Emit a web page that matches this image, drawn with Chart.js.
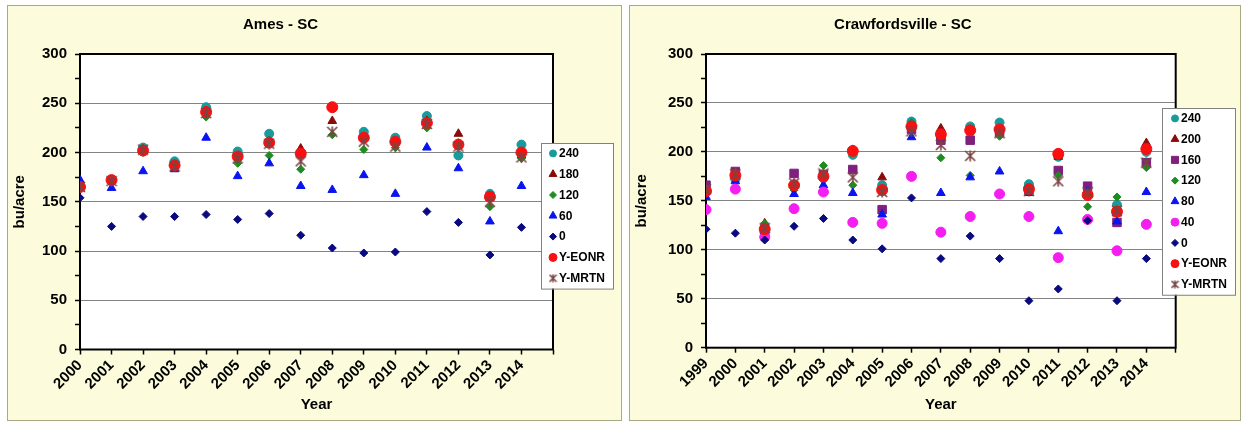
<!DOCTYPE html>
<html>
<head>
<meta charset="utf-8">
<script src="https://cdn.jsdelivr.net/npm/chart.js@4.4.0/dist/chart.umd.min.js"></script>
<style>
  html, body { margin: 0; padding: 0; background: #fff; }
  .panel { position: absolute; top: 5px; height: 414px; border: 1px solid #a9a984; background: #fcfcdc; }
  #amesBox { left: 7px; width: 613px; }
  #crawBox { left: 629px; width: 610px; }
  canvas { display: block; }
</style>
</head>
<body>
<div class="panel" id="amesBox"><canvas id="ames" width="613" height="414"></canvas></div>
<div class="panel" id="crawBox"><canvas id="craw" width="610" height="414"></canvas></div>
<script>
// ---- Ames - SC (N rates, bu/acre) ----
const amesYears = [2000, 2001, 2002, 2003, 2004, 2005, 2006, 2007, 2008, 2009, 2010, 2011, 2012, 2013, 2014];
const ames240  = [166, 172, 205, 191, 246, 201, 219, 200, 246, 221, 215, 237, 197, 158, 208];
const ames180  = [165, 172, 203, 187, 242, 195, 211, 204, 232, 215, 210, 232, 219, 154, 197];
const ames120  = [163, 170, 200, 186, 236, 189, 197, 183, 218, 203, 205, 225, 210, 145, 194];
const ames60   = [172, 164, 181, 183, 215, 176, 189, 166, 162, 177, 158, 205, 184, 130, 166];
const ames0    = [154, 125, 135, 135, 137, 132, 138, 116, 103, 98, 99, 140, 129, 96, 124];
const amesEonr = [165, 172, 202, 187, 241, 196, 210, 199, 246, 215, 211, 230, 208, 155, 200];
const amesMrtn = [165, 171, 203, 186, 240, 194, 209, 191, 221, 211, 206, 229, 206, 150, 195];

// ---- Crawfordsville - SC ----
const crawYears = [1999, 2000, 2001, 2002, 2003, 2004, 2005, 2006, 2007, 2008, 2009, 2010, 2011, 2012, 2013, 2014];
const craw240  = [160, 172, 122, 166, 173, 197, 166, 231, 214, 226, 230, 167, 195, 158, 146, 200];
const craw200  = [164, 178, 127, 167, 176, 202, 174, 228, 224, 222, 221, 162, 195, 158, 137, 209];
const craw160  = [166, 180, 119, 178, 177, 182, 141, 223, 212, 212, 220, 161, 181, 165, 128, 189];
const craw120  = [158, 179, 127, 161, 186, 166, 160, 230, 194, 176, 216, 161, 176, 144, 154, 184];
const craw80   = [154, 170, 117, 157, 166, 158, 136, 215, 158, 174, 180, 158, 119, 160, 129, 159];
const craw40   = [141, 162, 113, 142, 159, 128, 127, 175, 118, 134, 157, 134, 92, 131, 99, 126];
const craw0    = [121, 117, 110, 124, 132, 110, 101, 153, 91, 114, 91, 48, 60, 130, 48, 91];
const crawEonr = [160, 176, 121, 166, 175, 201, 161, 226, 218, 222, 223, 162, 198, 156, 139, 203];
const crawMrtn = [162, 177, 122, 168, 178, 174, 159, 221, 207, 196, 219, 160, 170, 159, 140, 189];

const FONT = 'Liberation Sans, Arial, sans-serif';

// Excel "star" marker: an X with a vertical bar
function excelStar(size, color) {
  const c = document.createElement('canvas');
  c.width = size; c.height = size;
  const g = c.getContext('2d');
  g.strokeStyle = color;
  g.lineWidth = 1.6;
  g.beginPath();
  g.moveTo(1, 1); g.lineTo(size - 1, size - 1);
  g.moveTo(size - 1, 1); g.lineTo(1, size - 1);
  g.moveTo(size / 2, 0.5); g.lineTo(size / 2, size - 0.5);
  g.stroke();
  return c;
}

const MRTN = '#7a4444';
const starBig = excelStar(12, MRTN);
const starSmall = excelStar(9, MRTN);

// marker look per series name
const markers = {
  '240':    { color: '#179b9b', pointStyle: 'circle',   radius: 4.5, lr: 3.5 },
  '200':    { color: '#8b0a0a', pointStyle: 'triangle', radius: 5,   lr: 4.5 },
  '180':    { color: '#8b0a0a', pointStyle: 'triangle', radius: 5,   lr: 4.5 },
  '160':    { color: '#7f1f7f', pointStyle: 'rect',     radius: 6,   lr: 5 },
  '120':    { color: '#1e8c1e', pointStyle: 'rectRot',  radius: 4,   lr: 3.5 },
  '80':     { color: '#0a14f0', pointStyle: 'triangle', radius: 5,   lr: 4.5 },
  '60':     { color: '#0a14f0', pointStyle: 'triangle', radius: 5,   lr: 4.5 },
  '40':     { color: '#f51ef0', pointStyle: 'circle',   radius: 5,   lr: 4 },
  '0':      { color: '#0a0a80', pointStyle: 'rectRot',  radius: 4,   lr: 3.5 },
  'Y-EONR': { color: '#fa1010', pointStyle: 'circle',   radius: 5.5, lr: 4 },
  'Y-MRTN': { color: MRTN, pointStyle: starBig, legendStyle: starSmall, radius: 6, lr: 4.5 }
};

// white plot area + black frame
const plotFrame = {
  id: 'plotFrame',
  beforeDraw(chart) {
    const a = chart.chartArea, ctx = chart.ctx;
    ctx.save();
    ctx.fillStyle = '#ffffff';
    ctx.fillRect(a.left, a.top, a.right - a.left, a.bottom - a.top);
    ctx.restore();
  },
  beforeDatasetsDraw(chart) {
    const a = chart.chartArea, ctx = chart.ctx;
    ctx.save();
    ctx.strokeStyle = '#000';
    ctx.lineWidth = 2;
    ctx.strokeRect(a.left, a.top, a.right - a.left, a.bottom - a.top);
    ctx.restore();
  }
};

// Excel-like legend box that overlaps the plot's right edge
const boxLegend = {
  id: 'boxLegend',
  afterDraw(chart, args, opts) {
    const ctx = chart.ctx;
    const sets = chart.data.datasets;
    const h = sets.length * opts.row;
    ctx.save();
    ctx.fillStyle = '#ffffff';
    ctx.fillRect(opts.x, opts.y, opts.w, h);
    ctx.strokeStyle = '#808080';
    ctx.lineWidth = 1;
    ctx.strokeRect(opts.x + 0.5, opts.y + 0.5, opts.w, h);
    ctx.font = 'bold 12px ' + FONT;
    ctx.textBaseline = 'middle';
    ctx.textAlign = 'left';
    sets.forEach((ds, i) => {
      const cy = opts.y + opts.row * (i + 0.5);
      const m = markers[ds.label];
      ctx.fillStyle = m.color;
      ctx.strokeStyle = m.color;
      ctx.lineWidth = 1;
      Chart.helpers.drawPoint(ctx, { pointStyle: m.legendStyle || m.pointStyle, radius: m.lr, borderWidth: 1, rotation: 0 }, opts.x + opts.mx, cy);
      ctx.fillStyle = '#000';
      ctx.fillText(ds.label, opts.x + opts.tx, cy + 0.5);
    });
    ctx.restore();
  }
};

function makeChart(canvasId, title, years, names, values, geo) {
  const n = names.length;
  const datasets = names.map((name, i) => {
    const m = markers[name];
    return {
      label: name,
      data: years.map((yr, k) => ({ x: yr, y: values[i][k] })),
      pointStyle: m.pointStyle,
      pointRadius: m.radius,
      pointBackgroundColor: m.color,
      pointBorderColor: m.color,
      pointBorderWidth: 1,
      showLine: false,
      order: n - i
    };
  });
  const tickFont = { family: FONT, size: 15, weight: 'bold' };
  return new Chart(document.getElementById(canvasId), {
    type: 'scatter',
    data: { datasets },
    options: {
      responsive: false,
      animation: false,
      events: [],
      layout: { padding: { left: 0, right: geo.right, top: 0, bottom: 0 } },
      plugins: {
        legend: { display: false },
        tooltip: { enabled: false },
        title: {
          display: true, text: title, color: '#000',
          font: { family: FONT, size: 15, weight: 'bold' },
          padding: { top: 10, bottom: 20 }
        },
        boxLegend: geo.legend
      },
      scales: {
        x: {
          type: 'linear',
          min: years[0],
          max: years[years.length - 1] + 1,
          ticks: {
            stepSize: 1, autoSkip: false, maxRotation: 45, minRotation: 45,
            color: '#000', font: tickFont, padding: 2,
            callback: v => years.includes(v) ? String(v) : ''
          },
          grid: { drawOnChartArea: false, drawTicks: true, tickLength: 5, tickColor: '#000', tickWidth: 1.5 },
          border: { display: false },
          title: { display: true, text: 'Year', color: '#000', font: tickFont, padding: { top: 0, bottom: 6 } },
          afterFit: s => { s.height = geo.xh; }
        },
        y: {
          min: 0, max: 300,
          ticks: {
            stepSize: 25, autoSkip: false, color: '#000', font: tickFont, padding: 8,
            callback: v => v % 50 === 0 ? String(v) : ''
          },
          grid: {
            color: c => (c.tick && c.tick.value % 50 === 0 && c.tick.value > 0 && c.tick.value < 300) ? '#848484' : 'rgba(0,0,0,0)',
            lineWidth: 1, tickColor: '#000', tickLength: 5, tickWidth: 1.5
          },
          border: { display: false },
          title: { display: true, text: 'bu/acre', color: '#000', font: tickFont, padding: { top: 3, bottom: 0 } },
          afterFit: s => { s.width = geo.yw; }
        }
      }
    },
    plugins: [plotFrame, boxLegend]
  });
}

makeChart('ames', 'Ames - SC', amesYears,
  ['240', '180', '120', '60', '0', 'Y-EONR', 'Y-MRTN'],
  [ames240, ames180, ames120, ames60, ames0, amesEonr, amesMrtn],
  { yw: 72, xh: 70.5, right: 68, legend: { x: 533, y: 137, w: 72, row: 20.8, mx: 12, tx: 18 } });

makeChart('craw', 'Crawfordsville - SC', crawYears,
  ['240', '200', '160', '120', '80', '40', '0', 'Y-EONR', 'Y-MRTN'],
  [craw240, craw200, craw160, craw120, craw80, craw40, craw0, crawEonr, crawMrtn],
  { yw: 76, xh: 72.3, right: 64.3, legend: { x: 532, y: 102, w: 73, row: 20.75, mx: 13, tx: 19 } });
</script>
</body>
</html>
